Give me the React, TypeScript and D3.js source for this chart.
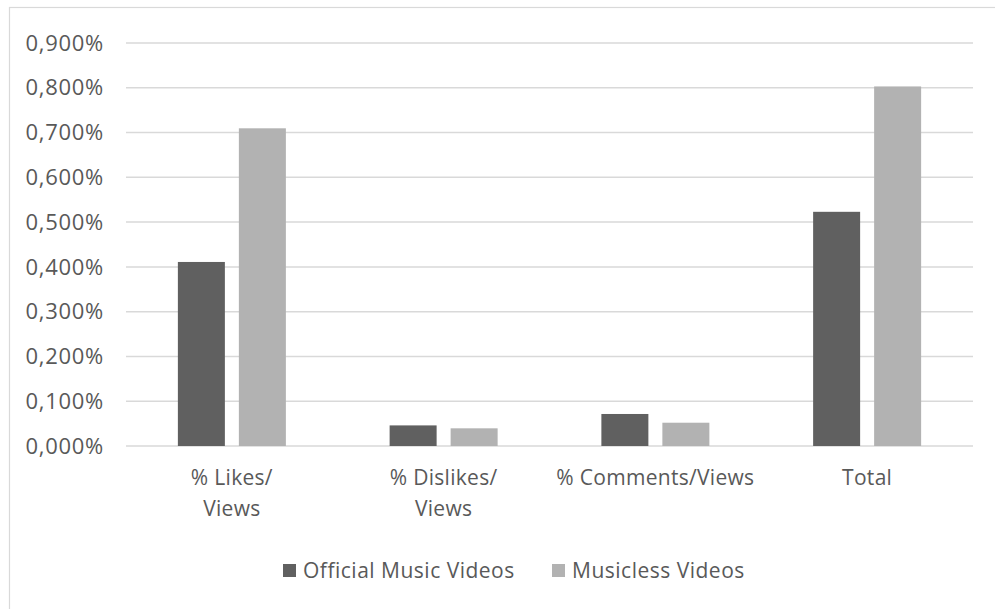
import React from "react";
import * as d3 from "d3";

const categories: string[][] = [["% Likes/", "Views"], ["% Dislikes/", "Views"], ["% Comments/Views"], ["Total"]];
const seriesNames = ["Official Music Videos", "Musicless Videos"];
const officialValues = [0.411, 0.046, 0.0715, 0.523];
const musiclessValues = [0.7095, 0.0395, 0.052, 0.803];
const yTicks = [0, 0.1, 0.2, 0.3, 0.4, 0.5, 0.6, 0.7, 0.8, 0.9];
const colors = ["#606060", "#b2b2b2"];

const W = 995, H = 609;
const FONT = "'Open Sans', sans-serif";

export default function App() {
  const plotLeft = 126, plotRight = 973, plotTop = 43, plotBottom = 446;
  const x0 = d3.scaleBand<number>().domain(d3.range(categories.length)).range([plotLeft, plotRight]).paddingInner(0).paddingOuter(0);
  const y = d3.scaleLinear().domain([0, 0.9]).range([plotBottom, plotTop]);
  const barW = 47, gap = 14;
  const series = [officialValues, musiclessValues];
  const fmt = (v: number) => v.toFixed(3).replace(".", ",") + "%";

  return (
    <svg width={W} height={H} style={{ position: "absolute", left: 0, top: 0, background: "#fff" }}>
      <rect x={9.5} y={7.5} width={1200} height={800} fill="#fff" stroke="#d9d9d9" strokeWidth={1.2} />
      {yTicks.map((t) => (
        <g key={t}>
          <line x1={plotLeft} x2={plotRight} y1={y(t)} y2={y(t)} stroke="#d9d9d9" strokeWidth={1.5} />
          <text x={104} y={y(t)} dy="0.35em" textAnchor="end" fontFamily={FONT} fontSize={22} letterSpacing={0.7} fill="#595959">{fmt(t)}</text>
        </g>
      ))}
      {categories.map((c, i) => {
        const cx = x0(i)! + x0.bandwidth() / 2;
        return (
          <g key={i}>
            {series.map((vals, s) => {
              const bx = cx - gap / 2 - barW + s * (barW + gap);
              return <rect key={s} x={bx} y={y(vals[i])} width={barW} height={y(0) - y(vals[i])} fill={colors[s]} />;
            })}
            {c.map((line, li) => (
              <text key={li} x={cx} y={478 + li * 31} dy="0.35em" textAnchor="middle" fontFamily={FONT} fontSize={21} letterSpacing={0.3} fill="#595959">{line}</text>
            ))}
          </g>
        );
      })}
      {seriesNames.map((n, s) => {
        const lx = [283, 552][s];
        return (
          <g key={n}>
            <rect x={lx} y={564} width={13} height={13} fill={colors[s]} />
            <text x={lx + 20} y={570.5} dy="0.35em" fontFamily={FONT} fontSize={21} letterSpacing={0.5} fill="#595959">{n}</text>
          </g>
        );
      })}
    </svg>
  );
}
